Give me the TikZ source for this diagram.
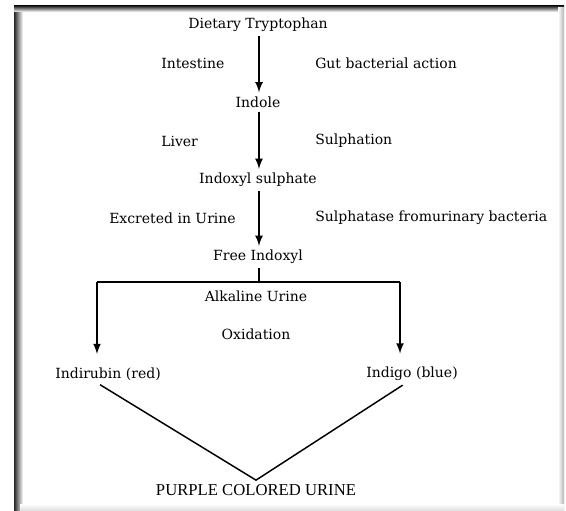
\documentclass[tikz,border=0pt]{standalone}
\usepackage{fontspec}
\setmainfont{DejaVu Serif}
\newfontfamily\capsfont{Liberation Serif}
\usetikzlibrary{arrows}
\usetikzlibrary{positioning}

\begin{document}
\begin{tikzpicture}[x=0.75pt,y=-0.75pt,>=latex,
	every node/.style={font=\fontsize{10.5}{12}\selectfont,inner sep=3pt},
	stage/.style={anchor=center},
	note/.style={anchor=west},
	flow/.style={->,line width=1.6pt},
	branch/.style={line width=1.1pt}]

	\useasboundingbox (0,0) rectangle (566,510);

	% frame with inner shadow
	\fill[white] (14,6) rectangle (564,510);
	\shade[left color=black!85,right color=white] (14,6) rectangle (23,510);
	\shade[top color=black!85,bottom color=white] (14,6) rectangle (564,12);
	\shade[left color=white,right color=black!30] (558,8) rectangle (564,510);
	\shade[top color=white,bottom color=black!12] (20,504) rectangle (564,510);

	\node[stage] (diet) at (258,25) {Dietary Tryptophan};
	\node[stage] (indole) at (258,102) {Indole};
	\node[stage] (sulph) at (258,180) {Indoxyl sulphate};
	\node[stage] (free) at (258,257) {Free Indoxyl};
	\node[stage] (indirubin) at (108,374) {Indirubin (red)};
	\node[stage] (indigo) at (412,374) {Indigo (blue)};
	\node[stage,font=\capsfont\fontsize{12.5}{14}\selectfont] (purple) at (256,490) {PURPLE COLORED URINE};

	\node[note] (intestine) at (157,63) {Intestine};
	\node[note] (gut) at (311,63) {Gut bacterial action};
	\node[note] (liver) at (157,141) {Liver};
	\node[note] (sulphation) at (311,141) {Sulphation};
	\node[note] (excreted) at (105,218) {Excreted in Urine};
	\node[note] (sulphatase) at (311,218) {Sulphatase fromurinary bacteria};
	\node[stage] (alkaline) at (256,296) {Alkaline Urine};
	\node[stage] (oxidation) at (256,334) {Oxidation};

	\coordinate (split) at (259,282);
	\coordinate (lft) at (97,282);
	\coordinate (rgt) at (400,282);

	\draw[flow] (diet.south -| split) -- (indole.north -| split);
	\draw[flow] (indole.south -| split) -- (sulph.north -| split);
	\draw[flow] (sulph.south -| split) -- (free.north -| split);
	\draw[branch] (free.south -| split) -- (split);
	\draw[branch] (lft) -- (rgt);
	\draw[flow,shorten >=7pt] (lft) -- (lft |- indirubin.north);
	\draw[flow,shorten >=7pt] (rgt) -- (rgt |- indigo.north);
	\draw[branch] ([xshift=-6pt]indirubin.south) -- (purple.north) -- ([xshift=-7pt]indigo.south);
\end{tikzpicture}
\end{document}
